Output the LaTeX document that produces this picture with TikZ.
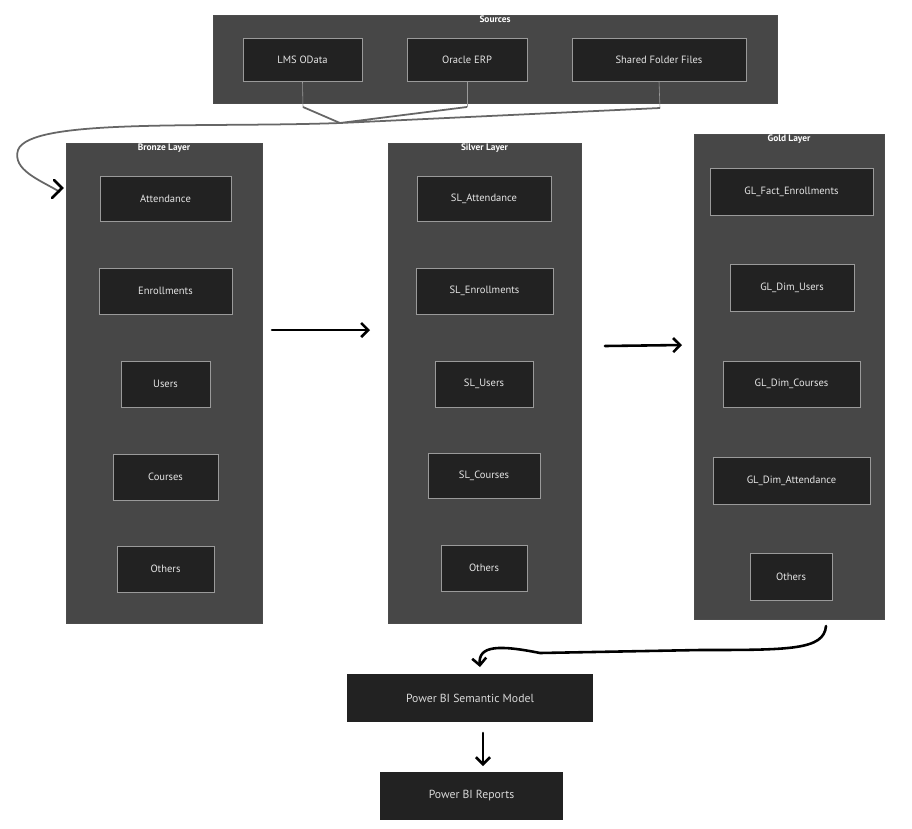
\documentclass[tikz,border=0pt]{standalone}
\usepackage{fontspec}
\setmainfont{PT Sans}
\usetikzlibrary{arrows.meta}
\definecolor{panel}{HTML}{474747}
\definecolor{cell}{HTML}{222222}
\definecolor{edge}{HTML}{9A9A9A}
\definecolor{inkgray}{HTML}{666666}

% node from pixel corners: style, x1, y1, x2, y2, name, text
\newcommand\pbox[7]{%
  \node[#1, minimum width={(#4-#2)*0.03cm}, minimum height={(#5-#3)*0.03cm}]
    (#6) at ({(#2+#4)/2}, {(#3+#5)/2}) {#7};}

\begin{document}
\begin{tikzpicture}[x=0.03cm, y=-0.03cm, font=\small]
	\tikzstyle{layer}=[rectangle, fill=panel, draw=black!70, inner sep=0pt]
	\tikzstyle{tbl}=[rectangle, fill=cell, draw=edge, text=white!90!black, inner sep=0pt]
	\tikzstyle{bi}=[rectangle, fill=cell, text=white!85!black, inner sep=0pt, font=\normalsize]
	\tikzstyle{title}=[text=white, font=\footnotesize\bfseries, anchor=north, inner sep=1pt]
	\tikzstyle{hand}=[black, line width=2.2pt, line cap=round, line join=round, -{Straight Barb[length=6pt, width=12pt]}]

	\useasboundingbox[fill=white] (0,0) rectangle (912,828);

	% Layers
	\pbox{layer}{213}{15}{777}{103}{src}{}
	\pbox{layer}{66}{143}{262}{623}{bronze}{}
	\pbox{layer}{388}{143}{581}{623}{silver}{}
	\pbox{layer}{694}{134}{884}{619}{gold}{}
	\node[title] at (src.north) {Sources};
	\node[title] at (bronze.north) {Bronze Layer};
	\node[title] at (silver.north) {Silver Layer};
	\node[title] at (gold.north) {Gold Layer};

	% Sources
	\pbox{tbl}{243}{38}{362}{81}{s1}{LMS OData}
	\pbox{tbl}{407}{38}{527}{81}{s2}{Oracle ERP}
	\pbox{tbl}{572}{38}{746}{81}{s3}{Shared Folder Files}

	% Bronze tables
	\pbox{tbl}{100}{176}{231}{221}{b1}{Attendance}
	\pbox{tbl}{99}{268}{232}{314}{b2}{Enrollments}
	\pbox{tbl}{121}{361}{210}{407}{b3}{Users}
	\pbox{tbl}{113}{454}{218}{500}{b4}{Courses}
	\pbox{tbl}{117}{546}{214}{592}{b5}{Others}

	% Silver tables
	\pbox{tbl}{417}{176}{551}{221}{sl1}{SL\_Attendance}
	\pbox{tbl}{416}{268}{553}{314}{sl2}{SL\_Enrollments}
	\pbox{tbl}{435}{361}{533}{407}{sl3}{SL\_Users}
	\pbox{tbl}{428}{453}{540}{498}{sl4}{SL\_Courses}
	\pbox{tbl}{441}{545}{527}{591}{sl5}{Others}

	% Gold tables
	\pbox{tbl}{710}{168}{873}{215}{g1}{GL\_Fact\_Enrollments}
	\pbox{tbl}{730}{264}{854}{311}{g2}{GL\_Dim\_Users}
	\pbox{tbl}{723}{361}{860}{407}{g3}{GL\_Dim\_Courses}
	\pbox{tbl}{713}{457}{870}{504}{g4}{GL\_Dim\_Attendance}
	\pbox{tbl}{750}{553}{832}{600}{g5}{Others}

	% Power BI
	\pbox{bi}{347}{674}{593}{722}{model}{Power BI Semantic Model}
	\pbox{bi}{380}{772}{563}{820}{reports}{Power BI Reports}

	% Sources merge into the bronze layer
	\coordinate (j1) at (303,107);
	\coordinate (j2) at (467,107);
	\coordinate (j3) at (660,108);
	\coordinate (mix) at (340,123);
	\draw[edge, line width=0.5pt] (s1.south) -- (j1);
	\draw[edge, line width=0.5pt] (s2.south) -- (j2);
	\draw[edge, line width=0.5pt] (s3.south) -- (j3);
	\draw[inkgray, line width=1.5pt] (j1) -- (mix) (j2) -- (mix) (j3) -- (mix);
	\draw[inkgray, line width=1.5pt] (mix) .. controls (200,128) and (30,118) .. (18,150)
		.. controls (12,170) and (40,180) .. (60,192);
	\draw[black, line width=2.2pt, line cap=round] (54,180) -- (62,188) -- (52,198);

	% Layer to layer
	\coordinate (a1) at (272,330);
	\coordinate (a2) at (370,330);
	\coordinate (a3) at (605,346);
	\coordinate (a4) at (682,345);
	\draw[hand] (a1) -- (a2);
	\draw[hand] (a3) -- (a4);

	% Gold to Power BI
	\coordinate (gOut) at (826,626);
	\coordinate (mIn) at (480,667);
	\draw[hand] (gOut) .. controls (824,650) and (790,650) .. (700,650)
		-- (540,653) .. controls (500,645) and (478,645) .. (mIn);
	\coordinate (mOut) at (483,733);
	\coordinate (rIn) at (483,766);
	\draw[hand] (mOut) -- (rIn);
\end{tikzpicture}
\end{document}
